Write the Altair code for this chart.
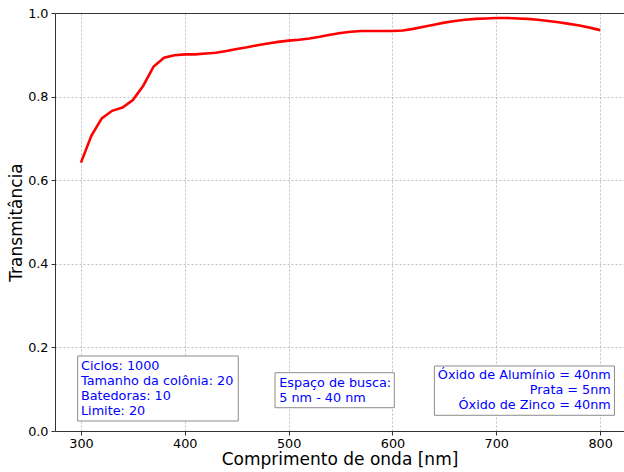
import altair as alt
import pandas as pd

# Wavelength (nm) and transmittance
wavelength = list(range(300, 801, 10))
transmittance = [
    0.642, 0.706, 0.748, 0.766, 0.774, 0.792, 0.826, 0.872, 0.893, 0.899,
    0.901, 0.901, 0.903, 0.905, 0.909, 0.914, 0.918, 0.923, 0.927, 0.931,
    0.934, 0.936, 0.939, 0.943, 0.948, 0.952, 0.955, 0.957, 0.957, 0.957,
    0.957, 0.958, 0.962, 0.967, 0.972, 0.977, 0.981, 0.984, 0.986, 0.987,
    0.988, 0.988, 0.987, 0.986, 0.984, 0.981, 0.978, 0.974, 0.970, 0.965,
    0.959,
]

# Annotation boxes (data coordinates)
box_texts = [
    ["Ciclos: 1000", "Tamanho da colônia: 20", "Batedoras: 10", "Limite: 20"],
    ["Espaço de busca:", "5 nm - 40 nm"],
    ["Óxido de Alumínio = 40nm", "Prata = 5nm", "Óxido de Zinco = 40nm"],
]
box_x0 = [296.8, 486.9, 640.4]
box_x1 = [451.5, 601.8, 813.8]
box_y0 = [0.0239, 0.0557, 0.0376]
box_y1 = [0.1794, 0.1395, 0.1555]
text_x = [300.0, 491.0, 810.3]
text_y = [0.1562, 0.1156, 0.1340]  # first line
text_align = ["left", "left", "right"]

x_ticks = [300, 400, 500, 600, 700, 800]
y_ticks = [0.0, 0.2, 0.4, 0.6, 0.8, 1.0]

df = pd.DataFrame({"wl": wavelength, "t": transmittance})
boxes = pd.DataFrame({"x0": box_x0, "x1": box_x1, "y0": box_y0, "y1": box_y1})
texts = pd.DataFrame({"x": text_x, "y": text_y, "txt": box_texts, "align": text_align})

FONT = "DejaVu Sans"
TICK_FS = 12.8
TITLE_FS = 17
xscale = alt.Scale(domain=[275, 823], nice=False, zero=False)
yscale = alt.Scale(domain=[0, 1.0], nice=False)

xaxis = alt.Axis(
    values=x_ticks, title="Comprimento de onda [nm]", grid=True,
    labelFontSize=TICK_FS, titleFontSize=TITLE_FS, titleFontWeight="normal",
    labelColor="black", titleColor="black", domainColor="#333", tickColor="#333",
    tickSize=4, labelPadding=2, titleY=28, titleBaseline="middle",
    labelFont=FONT, titleFont=FONT,
)
yaxis = alt.Axis(
    values=y_ticks, format=".1f", title="Transmitância", grid=True,
    labelFontSize=TICK_FS, titleFontSize=TITLE_FS, titleFontWeight="normal",
    labelColor="black", titleColor="black", domainColor="#333", tickColor="#333",
    tickSize=4, labelPadding=3, titleX=-39, titleY=209, titleAngle=270,
    titleAlign="center", titleBaseline="middle",
    labelFont=FONT, titleFont=FONT,
)

line = alt.Chart(df).mark_line(color="red", strokeWidth=2.6).encode(
    x=alt.X("wl:Q", scale=xscale, axis=xaxis),
    y=alt.Y("t:Q", scale=yscale, axis=yaxis),
)

top = alt.Chart(df).mark_line(opacity=0).encode(
    x=alt.X("wl:Q", scale=xscale, axis=alt.Axis(
        orient="top", labels=False, ticks=False, grid=False, title=None,
        domainColor="#333")),
    y=alt.Y("t:Q", scale=yscale, axis=None),
)

rects = alt.Chart(boxes).mark_rect(
    fill="white", stroke="#8c8c8c", strokeWidth=1
).encode(
    x=alt.X("x0:Q", scale=xscale, axis=None), x2="x1:Q",
    y=alt.Y("y0:Q", scale=yscale, axis=None), y2="y1:Q",
)

def text_layer(i):
    sub = texts.iloc[[i]]
    return alt.Chart(sub).mark_text(
        font=FONT, fontSize=TICK_FS, color="blue", align=text_align[i],
        baseline="middle", lineHeight=15,
    ).encode(
        x=alt.X("x:Q", scale=xscale, axis=None),
        y=alt.Y("y:Q", scale=yscale, axis=None),
        text="txt",
    )

chart = alt.layer(
    line, top, rects, text_layer(0), text_layer(1), text_layer(2)
).resolve_axis(x="independent", y="independent").properties(
    width=569, height=418,
    autosize=alt.AutoSizeParams(type="none"),
    padding={"left": 55, "top": 13, "right": 0, "bottom": 41},
).configure_view(stroke=None).configure_axis(
    gridColor="#b0b0b0", gridDash=[2, 2], gridWidth=0.8,
    domainWidth=1, tickWidth=1,
)

chart.save("out.html", embed_options={"renderer": "svg", "actions": False})
